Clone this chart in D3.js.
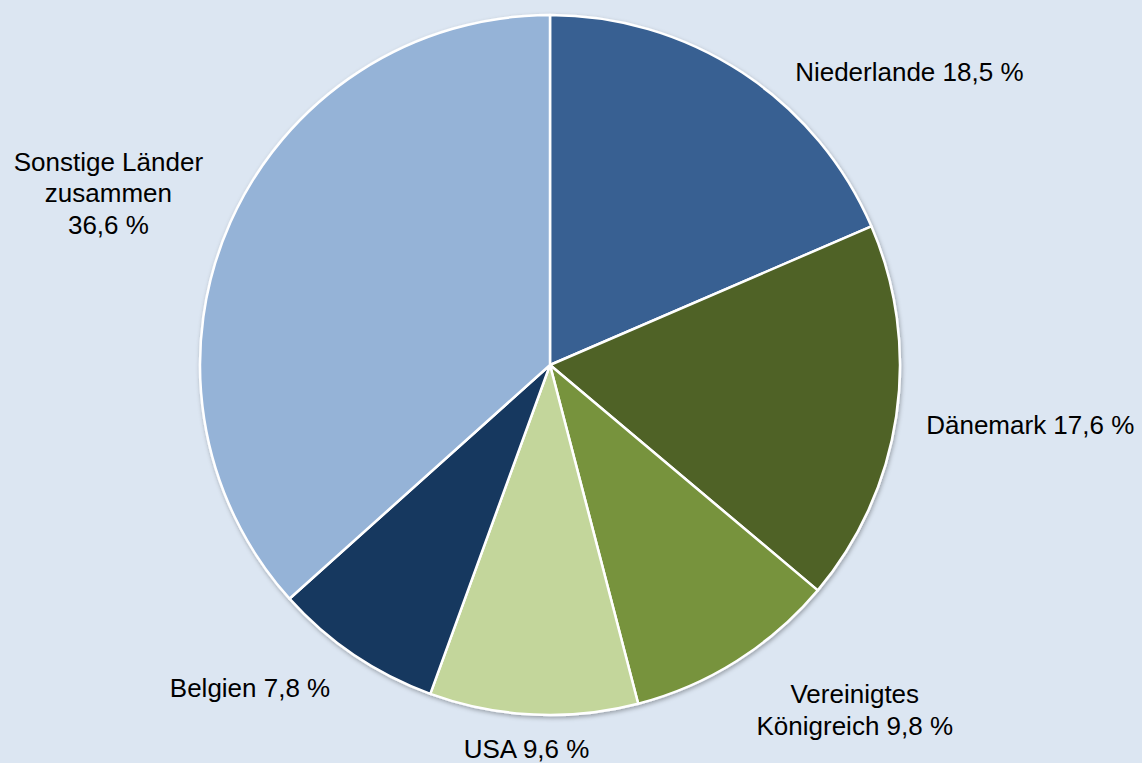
<!DOCTYPE html>
<html>
<head>
<meta charset="utf-8">
<script src="https://cdn.jsdelivr.net/npm/d3@7"></script>
<style>
  html, body { margin: 0; padding: 0; background: #dce6f2; }
  svg { display: block; }
  text { font-family: "Liberation Sans", Arial, sans-serif; fill: #000; }
</style>
</head>
<body>
<div class="chart"></div>
<script>
// data, clockwise from 12 o'clock
const countries = ["Niederlande", "Dänemark", "Vereinigtes Königreich", "USA", "Belgien", "Sonstige Länder zusammen"]
const shares = [18.5, 17.6, 9.8, 9.6, 7.8, 36.6]
const labelLines = [
  ["Niederlande 18,5 %"],
  ["Dänemark 17,6 %"],
  ["Vereinigtes", "Königreich 9,8 %"],
  ["USA 9,6 %"],
  ["Belgien 7,8 %"],
  ["Sonstige Länder", "zusammen", "36,6 %"]
]
const colors = ["#376092", "#4f6228", "#77933c", "#c3d69b", "#17375e", "#95b3d7"]

let width = 1142, height = 763
let cx = 550, cy = 365, radius = 350

// where Excel pushed each label, relative to the slice's outer mid point
const labelShift = [[167, -1], [134, 9], [118, 49], [-7, 34], [-104, 33], [-122, -29]]

let svg = d3.select("div.chart").append("svg")
    .attr("width", width)
    .attr("height", height)

let defs = svg.append("defs")
let shadow = defs.append("filter").attr("id", "shadow")
    .attr("x", "-10%").attr("y", "-10%").attr("width", "120%").attr("height", "120%")
shadow.append("feDropShadow")
    .attr("dx", 1).attr("dy", 2).attr("stdDeviation", 2)
    .attr("flood-color", "#000").attr("flood-opacity", 0.3)

let pie = d3.pie().sort(null).value(d => d)
let arc = d3.arc().innerRadius(0).outerRadius(radius)
let arcs = pie(shares)

let g = svg.append("g").attr("transform", `translate(${cx},${cy})`)

g.append("g").attr("filter", "url(#shadow)")
  .selectAll("path")
  .data(arcs)
  .enter()
  .append("path")
    .attr("d", arc)
    .attr("fill", (d, i) => colors[i])
    .attr("stroke", "#fff")
    .attr("stroke-width", 2.5)
    .attr("stroke-linejoin", "round")
    .attr("data-name", (d, i) => countries[i])

let fontSize = 26, lineH = 31.5

arcs.forEach((d, i) => {
  let a = (d.startAngle + d.endAngle) / 2
  let px = Math.sin(a) * radius + labelShift[i][0]
  let py = -Math.cos(a) * radius + labelShift[i][1]
  let lines = labelLines[i]
  let t = g.append("text")
      .attr("text-anchor", "middle")
      .attr("font-size", fontSize)
  lines.forEach((line, k) => {
    t.append("tspan")
      .attr("x", px)
      .attr("y", py + (k - (lines.length - 1) / 2) * lineH)
      .attr("dy", "0.35em")
      .text(line)
  })
})
</script>
</body>
</html>
